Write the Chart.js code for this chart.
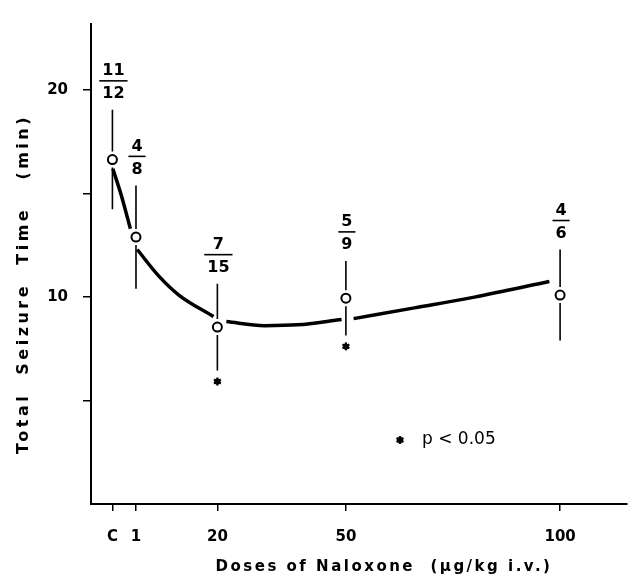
<!DOCTYPE html>
<html>
<head>
<meta charset="utf-8">
<script src="https://cdn.jsdelivr.net/npm/chart.js@4/dist/chart.umd.min.js"></script>
<style>
  html, body { margin: 0; padding: 0; background: #fff; }
  #wrap { width: 633px; height: 579px; position: relative; }
</style>
</head>
<body>
<div id="wrap"><canvas id="chart" width="633" height="579"></canvas></div>
<script>
// doses (C = control, drawn a little left of 1)
const doseLabels = ['C', '1', '20', '50', '100'];
const doseX = [-4.5, 1, 20, 50, 100];
// mean total seizure time (min) and SEM
const meanTime = [16.65, 12.9, 8.55, 9.95, 10.1];
const semTime = [2.4, 2.5, 2.1, 1.8, 2.2];
// animals seizing / animals tested
const nSeized = [11, 4, 7, 5, 4];
const nTotal = [12, 8, 15, 9, 6];
// p < 0.05 marks
const significant = [false, false, true, true, false];

// hand fitted curve (null = break in the line)
const fitX = [-4.4, -2.4, -0.3, 0.5, 1.3, 6.4, 11, 19.1, 20.5, 22.1, 31, 38.7, 49, 50.5, 51.8, 66, 80, 97.5];
const fitY = [16.2, 14.9, 13.3, null, 12.3, 11.0, 10.1, 9.06, null, 8.82, 8.62, 8.66, 8.92, null, 8.96, 9.48, 10.0, 10.75];

const yTickValues = [5, 10, 15, 20];
const yTickText = ['', '10', '', '20'];

const FONT = "'DejaVu Sans', sans-serif";

function drawStar(ctx, x, y) {
  ctx.save();
  ctx.fillStyle = '#000'; ctx.strokeStyle = '#000'; ctx.lineWidth = 2.2;
  ctx.beginPath(); ctx.arc(x, y, 3, 0, Math.PI * 2); ctx.fill();
  for (let k = 0; k < 3; k++) {
    const a = k * Math.PI / 3 + Math.PI / 2;
    ctx.beginPath();
    ctx.moveTo(x - Math.cos(a) * 4, y - Math.sin(a) * 4);
    ctx.lineTo(x + Math.cos(a) * 4, y + Math.sin(a) * 4);
    ctx.stroke();
  }
  ctx.restore();
}

const extras = {
  id: 'extras',
  beforeDatasetsDraw(chart) {
    const { ctx, scales: { x, y } } = chart;
    ctx.save();
    ctx.strokeStyle = '#000';
    ctx.lineWidth = 1.6;
    doseX.forEach((d, i) => {
      const px = x.getPixelForValue(d);
      const pm = y.getPixelForValue(meanTime[i]);
      const top = y.getPixelForValue(meanTime[i] + semTime[i]);
      const bot = y.getPixelForValue(meanTime[i] - semTime[i]);
      ctx.beginPath();
      ctx.moveTo(px, pm - 8); ctx.lineTo(px, top);
      ctx.moveTo(px, pm + 8); ctx.lineTo(px, bot);
      ctx.stroke();
    });
    ctx.restore();
  },
  afterDatasetsDraw(chart) {
    const { ctx, scales: { x, y } } = chart;
    ctx.save();
    ctx.fillStyle = '#000';
    ctx.strokeStyle = '#000';
    ctx.textAlign = 'center';
    ctx.textBaseline = 'middle';
    ctx.font = 'bold 16px ' + FONT;
    doseX.forEach((d, i) => {
      const px = x.getPixelForValue(d) + 1;
      const top = y.getPixelForValue(meanTime[i] + semTime[i]);
      const ly = top - 29;
      const w = Math.max(ctx.measureText(String(nSeized[i])).width, ctx.measureText(String(nTotal[i])).width) + 6;
      ctx.lineWidth = 1.6;
      ctx.beginPath(); ctx.moveTo(px - w / 2, ly); ctx.lineTo(px + w / 2, ly); ctx.stroke();
      ctx.fillText(String(nSeized[i]), px, ly - 10);
      ctx.fillText(String(nTotal[i]), px, ly + 13);
      if (significant[i]) {
        const bot = y.getPixelForValue(meanTime[i] - semTime[i]);
        drawStar(ctx, px - 1, bot + 11);
      }
    });
    // key
    drawStar(ctx, 400, 440);
    ctx.textAlign = 'left';
    ctx.font = '17px ' + FONT;
    ctx.fillText('p < 0.05', 422, 440);

    // axis titles
    ctx.font = 'bold 15px ' + FONT;
    ctx.letterSpacing = '2.5px';
    ctx.textAlign = 'center';
    ctx.fillText('Doses of Naloxone  (\u00b5g/kg i.v.)', 384, 567);
    ctx.font = 'bold 16px ' + FONT;
    ctx.letterSpacing = '3.5px';
    ctx.translate(24, 284);
    ctx.rotate(-Math.PI / 2);
    ctx.fillText('Total  Seizure  Time   (min)', 0, 0);
    ctx.restore();
  }
};

new Chart(document.getElementById('chart'), {
  type: 'scatter',
  data: {
    datasets: [
      {
        label: 'mean',
        data: doseX.map((d, i) => ({ x: d, y: meanTime[i] })),
        pointStyle: 'circle',
        pointRadius: 4.5,
        pointBackgroundColor: '#fff',
        pointBorderColor: '#000',
        pointBorderWidth: 2,
        showLine: false,
        order: 0
      },
      {
        label: 'fit',
        data: fitX.map((d, i) => ({ x: d, y: fitY[i] })),
        showLine: true,
        spanGaps: false,
        cubicInterpolationMode: 'monotone',
        borderColor: '#000',
        borderWidth: 3.5,
        pointRadius: 0,
        order: 1
      }
    ]
  },
  options: {
    responsive: false,
    animation: false,
    events: [],
    layout: { padding: { left: 0, right: 0, top: 12, bottom: 0 } },
    plugins: { legend: { display: false }, tooltip: { enabled: false } },
    scales: {
      x: {
        type: 'linear',
        min: -9.5,
        max: 115.5,
        afterBuildTicks: s => { s.ticks = doseX.map(v => ({ value: v })); },
        afterFit: s => { s.height = 75; },
        ticks: {
          autoSkip: false,
          maxRotation: 0,
          padding: 17,
          color: '#000',
          font: { family: FONT, size: 15, weight: 'bold' },
          callback: v => doseLabels[doseX.indexOf(v)] ?? ''
        },
        grid: { drawOnChartArea: false, drawTicks: true, tickLength: 7, color: '#000', lineWidth: 1.5 },
        border: { color: '#000', width: 2 }
      },
      y: {
        min: 0,
        max: 23.2,
        afterBuildTicks: s => { s.ticks = yTickValues.map(v => ({ value: v })); },
        afterFit: s => { s.width = 91; },
        ticks: {
          padding: 15,
          color: '#000',
          font: { family: FONT, size: 15, weight: 'bold' },
          callback: v => yTickText[yTickValues.indexOf(v)] ?? ''
        },
        grid: { drawOnChartArea: false, drawTicks: true, tickLength: 8, color: '#000', lineWidth: 1.5 },
        border: { color: '#000', width: 2 }
      }
    }
  },
  plugins: [extras]
});
</script>
</body>
</html>
